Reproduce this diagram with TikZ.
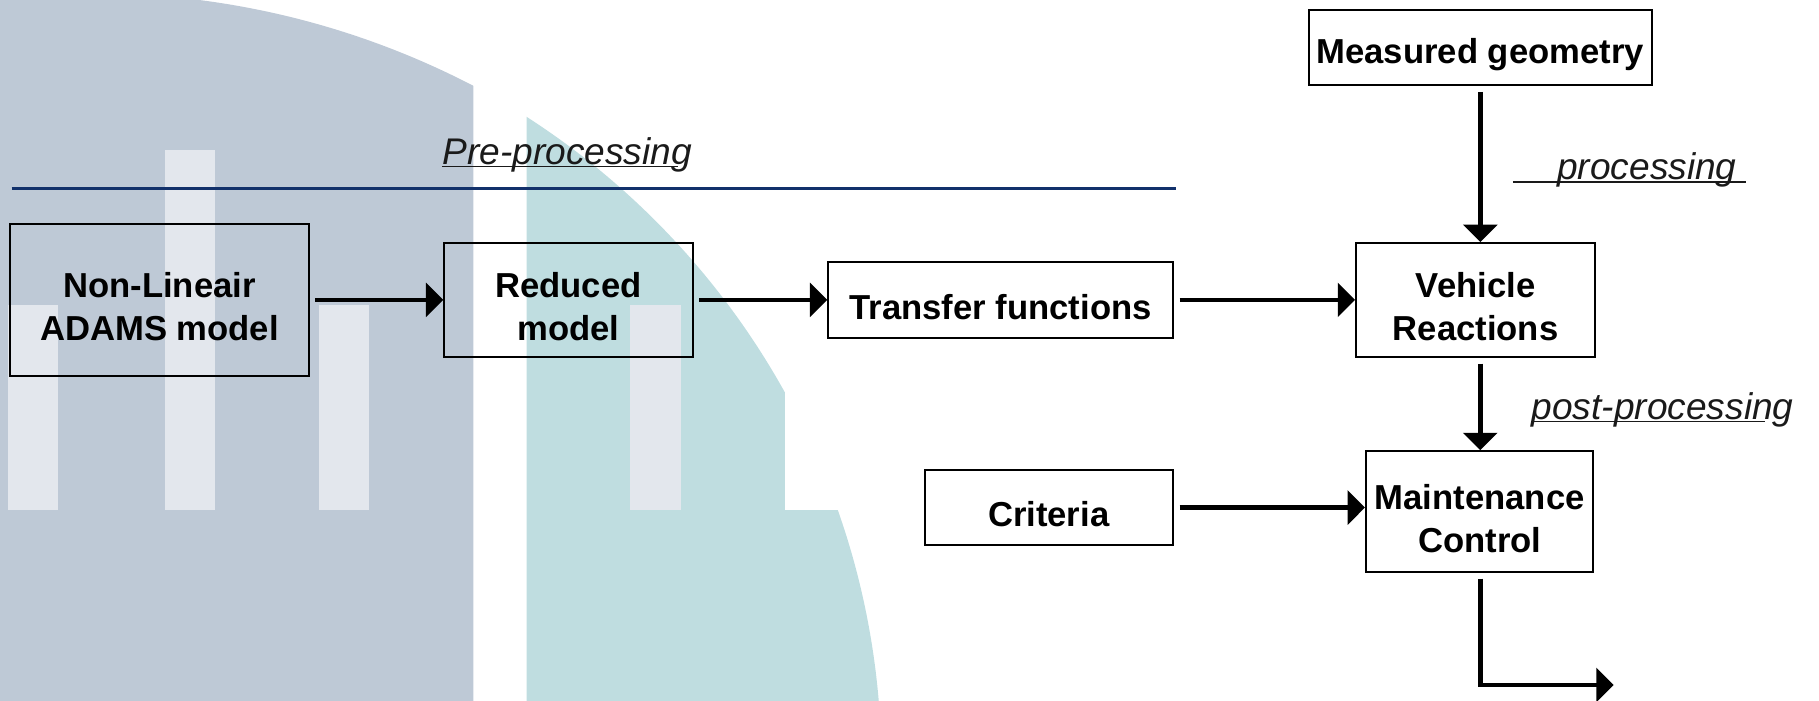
\documentclass[tikz,border=0pt]{standalone}
\usepackage{fontspec}
\setmainfont{Liberation Sans}
\usetikzlibrary{arrows.meta}
\definecolor{bgblue}{HTML}{BEC9D6}
\definecolor{bgteal}{HTML}{BFDDE0}
\definecolor{stripe}{HTML}{E3E7ED}
\definecolor{navy}{HTML}{12316B}
\definecolor{lbl}{HTML}{1A1A1A}
\newcommand{\lowr}{\rule{0pt}{19pt}}
\begin{document}
\begin{tikzpicture}[x=0.02cm,y=-0.02cm,
  box/.style={draw=black, line width=0.035cm, inner sep=0pt, align=center,
    font=\fontsize{17}{21}\selectfont\bfseries},
  flow/.style={line width=0.08cm, -{Triangle[length=0.3cm,width=0.58cm]}, shorten <=0.1cm},
  lab/.style={font=\fontsize{18.2}{22}\selectfont\itshape, text=lbl, inner sep=0pt},
  uline/.style={line width=0.025cm, draw=lbl}]
\useasboundingbox (0,0) rectangle (1568,604);
% background shapes
\begin{scope}
  \clip (0,0) rectangle (408,604);
  \fill[bgblue] (80,706.7) circle[radius=14.254cm];
\end{scope}
\begin{scope}
  \clip (454,0) rectangle (1568,604);
  \fill[bgteal] (94,661) circle[radius=13.32cm];
\end{scope}
\fill[white] (676.4,338) rectangle (745,439.5);
\fill[stripe] (7,263) rectangle (50,439.5);
\fill[stripe] (142,129) rectangle (185,439.5);
\fill[stripe] (275,263) rectangle (318,439.5);
\fill[stripe] (543,263) rectangle (587,439.5);
% separator line
\draw[navy, line width=0.045cm] (10,162.5) -- (1014,162.5);
% boxes
\node[box, minimum width=5.14cm, minimum height=2.62cm] (nl) at (137.5,258.5) {\lowr Non-Lineair\\ADAMS model};
\node[box, minimum width=4.28cm, minimum height=1.96cm] (red) at (490,258.5) {\lowr Reduced\\model};
\node[box, minimum width=5.94cm, minimum height=1.3cm] (tf) at (862.5,258.5) {\lowr Transfer functions};
\node[box, minimum width=4.12cm, minimum height=1.96cm] (vr) at (1272,258.5) {\lowr Vehicle\\Reactions};
\node[box, minimum width=5.92cm, minimum height=1.29cm] (mg) at (1276,41) {\lowr Measured geometry};
\node[box, minimum width=4.28cm, minimum height=1.3cm] (cr) at (904,437.5) {\lowr Criteria};
\node[box, minimum width=3.92cm, minimum height=2.08cm] (mc) at (1275.5,441) {\lowr Maintenance\\Control};
% labels
\node[lab, anchor=base west] (pre) at (381,141.5) {Pre-processing};
\draw[uline] ([yshift=-0.04cm]pre.base west) -- ([yshift=-0.04cm,xshift=-0.24cm]pre.base east);
\node[lab, anchor=base west] (proc) at (1342,155) {processing};
\draw[uline] ([yshift=-0.04cm,xshift=-0.76cm]proc.base west) -- ([yshift=-0.04cm,xshift=0.16cm]proc.base east);
\node[lab, anchor=base west] (post) at (1320,361.5) {post-processing};
\draw[uline] ([yshift=-0.04cm]post.base west) -- ([yshift=-0.04cm,xshift=-0.5cm]post.base east);
% connectors
\draw[flow] (nl.east) -- (red.west);
\draw[flow] (red.east) -- (tf.west);
\draw[flow] (tf.east) -- (vr.west);
\draw[flow] (mg.south) -- (mg.south |- vr.north);
\draw[flow] (vr.south -| mg.south) -- (mc.north -| mg.south);
\draw[flow] (cr.east) -- (cr.east -| mc.west);
\coordinate (out) at (1391,590.5);
\draw[flow] (mc.south -| mg.south) |- (out);
\end{tikzpicture}
\end{document}
